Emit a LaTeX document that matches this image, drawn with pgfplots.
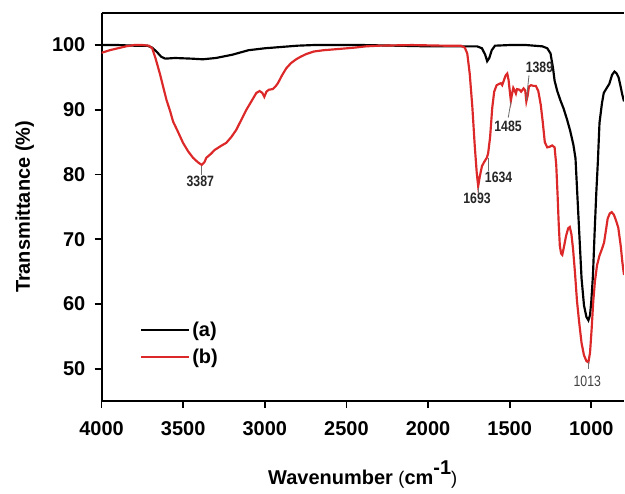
\documentclass[border=0pt]{standalone}
\usepackage{fontspec}
\setmainfont{Liberation Sans}
\newfontfamily\narrowfont[FakeStretch=0.82]{Liberation Sans}
\usepackage{pgfplots}
\pgfplotsset{compat=1.18}
\definecolor{specred}{RGB}{220,40,40}
\definecolor{annot}{RGB}{110,110,110}

\pgfplotstableread{
x y
4000 100
3900 100
3800 99.9
3720 99.9
3690 99.6
3660 98.9
3635 98.2
3610 97.9
3550 98
3450 97.9
3380 97.8
3300 98
3200 98.5
3100 99.2
3000 99.5
2900 99.7
2800 99.9
2700 100
2400 100
2000 99.8
1800 99.8
1700 99.8
1670 99.5
1650 98.5
1638 97.5
1625 98
1610 99.2
1590 99.9
1500 100
1400 100
1300 99.8
1270 99.5
1250 98.7
1235 96.5
1225 94.5
1210 93
1190 91.5
1170 90.2
1150 88.6
1130 86.8
1110 84.6
1097 82.5
1088 78
1075 71.5
1060 64
1045 59.8
1030 58
1018 57.5
1008 58.3
1000 60.5
990 64.5
980 71
970 77
960 82
950 88
935 91
924 92.6
905 93.4
890 94
873 95.4
858 95.9
845 95.6
833 95
820 93.5
810 92.3
800 91.3
}\seriesa

\pgfplotstableread{
x y
4000 98.8
3950 99.2
3900 99.5
3850 99.8
3800 100
3750 100
3710 99.9
3690 99.5
3670 98
3643 95.6
3620 93.3
3602 91.5
3580 89.8
3562 88.2
3530 86.5
3501 84.9
3470 83.6
3440 82.6
3410 81.9
3387 81.5
3370 81.9
3358 82.6
3330 83.2
3307 83.8
3270 84.4
3236 84.9
3205 85.8
3175 86.9
3145 88.4
3113 90
3080 91.4
3052 92.6
3032 92.9
3015 92.6
3003 92
2990 92.8
2975 93.1
2951 93.2
2935 93.6
2920 94.1
2895 95.3
2869 96.4
2840 97.2
2808 97.8
2780 98.2
2747 98.6
2700 99
2640 99.2
2543 99.4
2450 99.6
2380 99.8
2300 99.9
2100 100
1900 99.9
1800 99.9
1775 99.6
1760 98.7
1745 95.6
1729 90.5
1714 84.4
1702 80.3
1693 78.2
1684 79.6
1670 81.3
1655 82
1640 82.6
1632 83.3
1620 85.8
1607 90.3
1595 92.8
1580 93.8
1565 94
1555 94.1
1546 93.8
1535 94.6
1525 95.3
1515 95.6
1507 94.6
1500 93
1493 91.4
1486 92.4
1478 93.4
1470 93
1462 92.5
1455 93.2
1440 93.1
1430 92.8
1415 93.3
1405 93
1398 91.3
1390 92.2
1382 93.6
1370 93.8
1355 93.7
1340 93.7
1325 92.9
1310 90.8
1298 88.2
1285 85
1270 84.2
1255 84.3
1240 84.5
1225 84.2
1215 81.5
1207 77
1200 72.5
1193 69
1185 67.8
1178 67.6
1168 68.8
1155 70.5
1142 71.7
1132 71.9
1122 70.8
1112 68.5
1100 64.8
1088 60.5
1075 57.3
1060 54
1045 52.1
1030 51.2
1018 51
1008 52.5
998 56.2
988 60.5
978 63.5
965 66
950 67.5
935 68.5
922 69.5
910 71.5
900 73.2
887 74
875 74.2
862 73.8
850 73
835 71.8
820 69
810 66.5
800 64.5
}\seriesb

\begin{document}
\begin{tikzpicture}
\begin{axis}[
  name=ax,
  width=313.8pt, height=233.4pt, scale only axis,
  x dir=reverse,
  xmin=800, xmax=4000, ymin=45, ymax=105,
  xtick={1000,1500,...,4000}, ytick={50,60,...,100},
  axis x line*=bottom, axis y line*=left,
  axis line style={line width=1.2pt},
  tick align=outside, major tick length=4.2pt,
  tick style={line width=1.1pt, black},
  /pgf/number format/assume math mode=true,
  /pgf/number format/1000 sep={},
  ticklabel style={font=\bfseries\fontsize{12}{14}\selectfont},
  xticklabel style={yshift=-4.5pt},
  yticklabel style={xshift=-2pt},
  xlabel={\textbf{Wavenumber} {\fontsize{11}{13}\selectfont(}\textbf{cm}\raisebox{0.5em}{\textbf{-1}}{\fontsize{11}{13}\selectfont)}},
  ylabel={\textbf{Transmittance (\%)}},
  label style={font=\fontsize{12}{14}\selectfont},
  xlabel shift=8pt,
  ylabel shift=4pt,
  clip mode=individual,
  legend style={draw=none, fill=none, inner sep=0pt, row sep=3pt,
    nodes={inner sep=1.5pt},
    font=\bfseries\fontsize{12}{14}\selectfont,
    at={(axis cs:3765,53.9)}, anchor=west},
  legend cell align=left,
  legend image code/.code={\draw[#1] (0cm,0cm) -- (1cm,0cm);},
]
\addplot[black, line width=1.3pt] table[x=x,y=y] {\seriesa};
\addlegendentry{(a)}
\addplot[specred, line width=1.3pt] table[x=x,y=y] {\seriesb};
\addlegendentry{(b)}

\draw[line width=1.2pt] (rel axis cs:0,1) -- (rel axis cs:1,1);

\draw[annot, line width=0.5pt] (axis cs:3387,81.3) -- (axis cs:3387,80.0);
\node[font=\narrowfont\bfseries\fontsize{9}{10}\selectfont, text=black!85, inner sep=0pt] at (axis cs:3395,78.9) {3387};
\draw[annot, line width=0.5pt] (axis cs:1693,78.0) -- (axis cs:1693,77.2);
\node[font=\narrowfont\bfseries\fontsize{9}{10}\selectfont, text=black!85, inner sep=0pt] at (axis cs:1700,76.3) {1693};
\draw[annot, line width=0.5pt] (axis cs:1629,82.6) -- (axis cs:1629,80.6);
\node[font=\narrowfont\bfseries\fontsize{9}{10}\selectfont, text=black!85, inner sep=0pt] at (axis cs:1568,79.6) {1634};
\draw[annot, line width=0.5pt] (axis cs:1492,91.3) -- (axis cs:1509,88.8);
\node[font=\narrowfont\bfseries\fontsize{9}{10}\selectfont, text=black!85, inner sep=0pt] at (axis cs:1510,87.4) {1485};
\draw[annot, line width=0.5pt] (axis cs:1398,91.5) -- (axis cs:1382,95.3);
\node[font=\narrowfont\bfseries\fontsize{9}{10}\selectfont, text=black!85, inner sep=0pt] at (axis cs:1318,96.6) {1389};
\draw[annot, line width=0.5pt] (axis cs:1018,51.0) -- (axis cs:1018,50.0);
\node[font=\narrowfont\fontsize{9}{10}\selectfont, text=black!75, inner sep=0pt] at (axis cs:1025,48.1) {1013};
\end{axis}
\path ([xshift=-61pt, yshift=-48pt]ax.south west) rectangle ([yshift=7.6pt]ax.north east);
\end{tikzpicture}
\end{document}
